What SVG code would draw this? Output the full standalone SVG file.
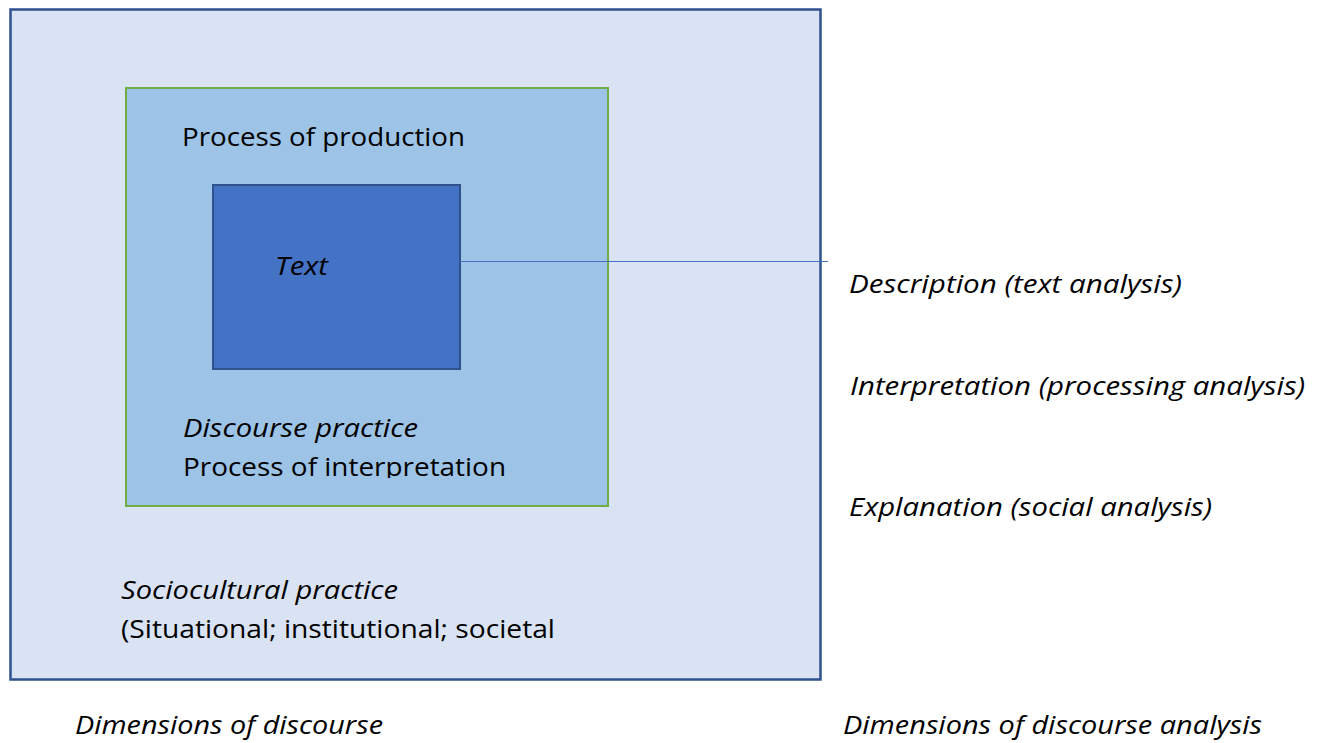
<svg xmlns="http://www.w3.org/2000/svg" width="1325" height="743" viewBox="0 0 1325 743">
<style>
text{font-family:"Open Sans","Liberation Sans",sans-serif;font-size:26px;fill:#000}
.i{font-style:italic}
</style>
<defs>
<clipPath id="clipInterp"><rect x="126" y="440" width="482" height="38"/></clipPath>
</defs>
<rect width="1325" height="743" fill="#fff"/>
<g id="sociocultural">
<rect x="10.5" y="9.5" width="810" height="670" fill="#DAE3F3" stroke="#2F528F" stroke-width="2.5"/>
<text class="i" x="121" y="599" textLength="277" lengthAdjust="spacingAndGlyphs">Sociocultural practice</text>
<text x="121" y="638" textLength="434" lengthAdjust="spacingAndGlyphs">(Situational; institutional; societal</text>
</g>
<g id="discourse">
<rect x="126" y="88" width="482" height="418" fill="#9DC3E6" stroke="#70AD47" stroke-width="2"/>
<text x="182" y="146" textLength="283" lengthAdjust="spacingAndGlyphs">Process of production</text>
<text class="i" x="183" y="437" textLength="235" lengthAdjust="spacingAndGlyphs">Discourse practice</text>
<text x="183" y="476" textLength="323" lengthAdjust="spacingAndGlyphs" clip-path="url(#clipInterp)">Process of interpretation</text>
</g>
<g id="text-node">
<rect x="213" y="185" width="247" height="184" fill="#4472C4" stroke="#2F528F" stroke-width="2"/>
<text class="i" x="275" y="275" textLength="53" lengthAdjust="spacingAndGlyphs">Text</text>
</g>
<g id="connectors">
<line x1="460" y1="261.5" x2="828" y2="261.5" stroke="#4472C4" stroke-width="1"/>
</g>
<g id="labels">
<text class="i" x="849" y="293" textLength="333" lengthAdjust="spacingAndGlyphs">Description (text analysis)</text>
<text class="i" x="850" y="395" textLength="455" lengthAdjust="spacingAndGlyphs">Interpretation (processing analysis)</text>
<text class="i" x="849" y="516" textLength="363" lengthAdjust="spacingAndGlyphs">Explanation (social analysis)</text>
<text class="i" x="75" y="734" textLength="308" lengthAdjust="spacingAndGlyphs">Dimensions of discourse</text>
<text class="i" x="843" y="734" textLength="419" lengthAdjust="spacingAndGlyphs">Dimensions of discourse analysis</text>
</g>
</svg>
